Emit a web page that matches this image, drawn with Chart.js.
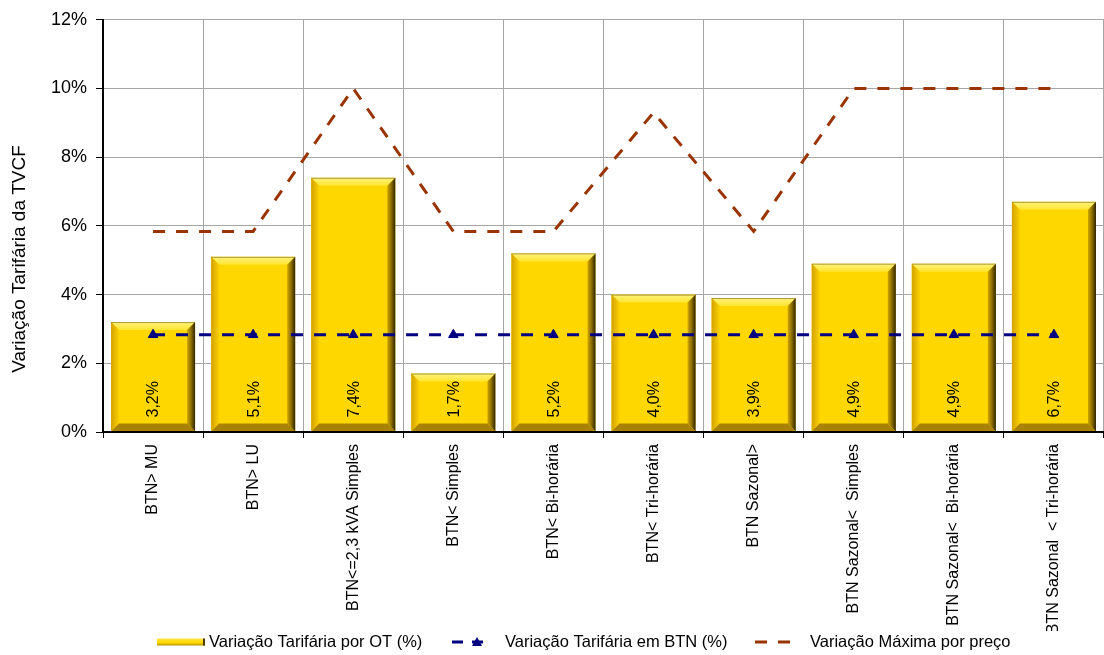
<!DOCTYPE html>
<html>
<head>
<meta charset="utf-8">
<script src="https://cdn.jsdelivr.net/npm/chart.js@4/dist/chart.umd.min.js"></script>
<style>
    html, body { margin: 0; padding: 0; background: #fff; }
    canvas { display: block; }
</style>
</head>
<body>
<canvas id="tvcf-chart" width="1104" height="655"></canvas>
<script>
const categories = [
    'BTN> MU',
    'BTN> LU',
    'BTN<=2,3 kVA Simples',
    'BTN< Simples',
    'BTN< Bi-horária',
    'BTN< Tri-horária',
    'BTN Sazonal>',
    'BTN Sazonal<  Simples',
    'BTN Sazonal<  Bi-horária',
    'BTN Sazonal  < Tri-horária'
];
const variacaoOT = [3.2, 5.1, 7.4, 1.7, 5.2, 4.0, 3.9, 4.9, 4.9, 6.7];
const variacaoBTN = [2.83, 2.83, 2.83, 2.83, 2.83, 2.83, 2.83, 2.83, 2.83, 2.83];
const variacaoMaxima = [5.84, 5.84, 10.0, 5.84, 5.84, 9.3, 5.84, 10.0, 10.0, 10.0];
const yTicks = [0, 2, 4, 6, 8, 10, 12];

const labelOT = 'Variação Tarifária por OT (%)';
const labelBTN = 'Variação Tarifária em BTN (%)';
const labelMaxima = 'Variação Máxima por preço';
const yTitle = 'Variação Tarifária da TVCF';

const FONT = '"Liberation Sans", Arial, sans-serif';
const BLUE = '#000080';
const RED = '#993300';
const GOLD = '#FFD700';

Chart.defaults.font.family = FONT;
Chart.defaults.color = '#000';

function pct(v) {
    return v.toFixed(1).replace('.', ',') + '%';
}

// bevelled faces on top of each yellow bar
function drawBevel(ctx, l, t, r, b) {
    const d = Math.min(8, (b - t) / 2);
    ctx.save();

    let g = ctx.createLinearGradient(0, t, 0, t + d);
    g.addColorStop(0, '#FFF27E');
    g.addColorStop(1, '#FFE42E');
    ctx.fillStyle = g;
    ctx.beginPath();
    ctx.moveTo(l, t); ctx.lineTo(r, t); ctx.lineTo(r - d, t + d); ctx.lineTo(l + d, t + d);
    ctx.closePath(); ctx.fill();

    g = ctx.createLinearGradient(l, 0, l + d, 0);
    g.addColorStop(0, '#D4A200');
    g.addColorStop(1, '#FBD000');
    ctx.fillStyle = g;
    ctx.beginPath();
    ctx.moveTo(l, t); ctx.lineTo(l + d, t + d); ctx.lineTo(l + d, b - d); ctx.lineTo(l, b);
    ctx.closePath(); ctx.fill();

    g = ctx.createLinearGradient(r - d, 0, r, 0);
    g.addColorStop(0, '#D0A400');
    g.addColorStop(0.5, '#8C6E00');
    g.addColorStop(1, '#2E2400');
    ctx.fillStyle = g;
    ctx.beginPath();
    ctx.moveTo(r, t); ctx.lineTo(r, b); ctx.lineTo(r - d, b - d); ctx.lineTo(r - d, t + d);
    ctx.closePath(); ctx.fill();

    ctx.fillStyle = '#A88200';
    ctx.beginPath();
    ctx.moveTo(l, b); ctx.lineTo(l + d, b - d); ctx.lineTo(r - d, b - d); ctx.lineTo(r, b);
    ctx.closePath(); ctx.fill();

    ctx.strokeStyle = 'rgba(120, 95, 0, 0.6)';
    ctx.lineWidth = 1;
    ctx.beginPath();
    ctx.moveTo(l, t + 0.5); ctx.lineTo(r, t + 0.5);
    ctx.stroke();
    ctx.restore();
}

const barBevel = {
    id: 'barBevel',
    afterDatasetDraw(chart, args) {
        if (args.index !== 0) return;
        args.meta.data.forEach(bar => {
            const p = bar.getProps(['x', 'y', 'base', 'width'], true);
            drawBevel(chart.ctx, p.x - p.width / 2, p.y, p.x + p.width / 2, p.base);
        });
    }
};

const extras = {
    id: 'extras',
    afterDatasetsDraw(chart) {
        const ctx = chart.ctx;
        const area = chart.chartArea;

        // x axis line again, bars cover it
        ctx.save();
        ctx.strokeStyle = '#000';
        ctx.lineWidth = 2;
        ctx.beginPath();
        ctx.moveTo(area.left - 1, area.bottom);
        ctx.lineTo(area.right, area.bottom);
        ctx.stroke();

        // values written up inside the bars
        ctx.fillStyle = '#000';
        ctx.font = '16px ' + FONT;
        ctx.textAlign = 'left';
        ctx.textBaseline = 'middle';
        chart.getDatasetMeta(0).data.forEach((bar, i) => {
            ctx.save();
            ctx.translate(bar.x + 1, bar.base - 14);
            ctx.rotate(-Math.PI / 2);
            ctx.fillText(pct(variacaoOT[i]), 0, 0);
            ctx.restore();
        });
        ctx.restore();
    },
    afterDraw(chart) {
        const ctx = chart.ctx;
        ctx.save();

        // y axis title
        ctx.fillStyle = '#000';
        ctx.font = '19px ' + FONT;
        ctx.textAlign = 'center';
        ctx.textBaseline = 'middle';
        ctx.translate(20, 259);
        ctx.rotate(-Math.PI / 2);
        ctx.fillText(yTitle, 0, 0);
        ctx.setTransform(1, 0, 0, 1, 0, 0);

        // legend box
        const ly = 642;
        ctx.fillStyle = '#fff';
        ctx.fillRect(0, 631, chart.width, chart.height - 631);

        let g = ctx.createLinearGradient(0, ly - 4, 0, ly + 4);
        g.addColorStop(0, '#FFE84A');
        g.addColorStop(0.6, GOLD);
        g.addColorStop(1, '#A88400');
        ctx.fillStyle = g;
        ctx.fillRect(157, ly - 3.5, 48, 7);
        ctx.fillStyle = '#4A3A00';
        ctx.fillRect(203, ly - 3.5, 2, 7);

        ctx.strokeStyle = BLUE;
        ctx.lineWidth = 3;
        ctx.beginPath();
        ctx.moveTo(452, ly); ctx.lineTo(463, ly);
        ctx.stroke();
        ctx.beginPath();
        ctx.moveTo(472, ly); ctx.lineTo(483, ly);
        ctx.stroke();
        ctx.fillStyle = BLUE;
        ctx.beginPath();
        ctx.moveTo(477, ly - 5); ctx.lineTo(482, ly + 4); ctx.lineTo(472, ly + 4);
        ctx.closePath(); ctx.fill();

        ctx.strokeStyle = RED;
        ctx.beginPath();
        ctx.moveTo(755, ly); ctx.lineTo(767, ly);
        ctx.moveTo(778, ly); ctx.lineTo(790, ly);
        ctx.stroke();

        ctx.fillStyle = '#000';
        ctx.font = '16.5px ' + FONT;
        ctx.textAlign = 'left';
        ctx.textBaseline = 'middle';
        ctx.fillText(labelOT, 209, ly);
        ctx.fillText(labelBTN, 505, ly);
        ctx.fillText(labelMaxima, 810, ly);
        ctx.restore();
    }
};

new Chart(document.getElementById('tvcf-chart'), {
    type: 'bar',
    data: {
        labels: categories,
        datasets: [
            {
                type: 'bar',
                label: labelOT,
                data: variacaoOT,
                backgroundColor: GOLD,
                borderWidth: 0,
                barPercentage: 0.84,
                categoryPercentage: 1,
                order: 3
            },
            {
                type: 'line',
                label: labelBTN,
                data: variacaoBTN,
                borderColor: BLUE,
                borderWidth: 3,
                borderDash: [12, 11],
                pointStyle: 'triangle',
                pointRadius: 5.5,
                pointBackgroundColor: BLUE,
                pointBorderColor: BLUE,
                pointBorderWidth: 1,
                tension: 0,
                order: 1
            },
            {
                type: 'line',
                label: labelMaxima,
                data: variacaoMaxima,
                borderColor: RED,
                borderWidth: 3,
                borderDash: [12, 11],
                pointRadius: 0,
                tension: 0,
                order: 2
            }
        ]
    },
    options: {
        responsive: false,
        animation: false,
        devicePixelRatio: 1,
        layout: {
            autoPadding: false,
            padding: {top: 17, right: -1, bottom: 0, left: 0}
        },
        plugins: {
            legend: {display: false},
            tooltip: {enabled: false}
        },
        scales: {
            x: {
                offset: true,
                grid: {
                    offset: true,
                    color: '#a6a6a6',
                    lineWidth: 1,
                    tickLength: 6,
                    tickColor: '#000'
                },
                border: {color: '#000', width: 2},
                ticks: {
                    autoSkip: false,
                    minRotation: 90,
                    maxRotation: 90,
                    padding: 6,
                    font: {size: 16}
                },
                afterFit(scale) {
                    scale.height = 223;
                }
            },
            y: {
                min: 0,
                max: 12,
                afterBuildTicks(scale) {
                    scale.ticks = yTicks.map(v => ({value: v}));
                },
                grid: {
                    color: '#a6a6a6',
                    lineWidth: 1,
                    tickLength: 7,
                    tickColor: '#000'
                },
                border: {color: '#000', width: 2},
                ticks: {
                    padding: 9,
                    font: {size: 18},
                    callback: v => v + '%'
                },
                afterFit(scale) {
                    scale.width = 103;
                }
            }
        }
    },
    plugins: [barBevel, extras]
});
</script>
</body>
</html>
